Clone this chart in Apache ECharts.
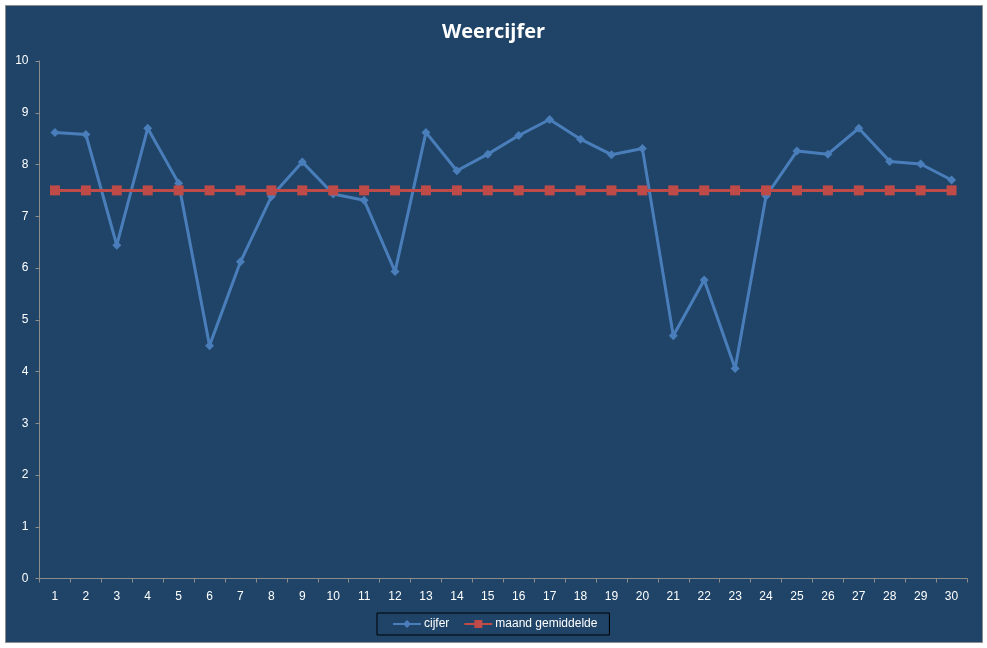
<!DOCTYPE html>
<html>
<head>
<meta charset="utf-8">
<script src="https://cdn.jsdelivr.net/npm/echarts@6/dist/echarts.min.js"></script>
<style>
  html, body { margin: 0; padding: 0; background: #fff; }
  #main { width: 987px; height: 648px; }
</style>
</head>
<body>
<div id="main"></div>
<script>
// dagen van de maand
var dagen = ['1','2','3','4','5','6','7','8','9','10','11','12','13','14','15',
             '16','17','18','19','20','21','22','23','24','25','26','27','28','29','30'];
// weercijfer per dag
var cijfer = [8.62, 8.58, 6.44, 8.70, 7.64, 4.50, 6.12, 7.38, 8.05, 7.43,
              7.31, 5.93, 8.62, 7.88, 8.20, 8.56, 8.87, 8.49, 8.19, 8.31,
              4.69, 5.77, 4.06, 7.39, 8.26, 8.20, 8.70, 8.06, 8.01, 7.70];
// maandgemiddelde
var gemiddelde = [7.5, 7.5, 7.5, 7.5, 7.5, 7.5, 7.5, 7.5, 7.5, 7.5,
                  7.5, 7.5, 7.5, 7.5, 7.5, 7.5, 7.5, 7.5, 7.5, 7.5,
                  7.5, 7.5, 7.5, 7.5, 7.5, 7.5, 7.5, 7.5, 7.5, 7.5];
var yTicks = [0, 10, 1]; // min, max, interval

var dom = document.getElementById("main");
var myChart = echarts.init(dom);
var font = '"Liberation Sans", Arial, sans-serif';

var option = {
    backgroundColor: '#ffffff',
    animation: false,
    graphic: [{
        type: 'rect',
        z: -10,
        shape: { x: 5.5, y: 5.5, width: 977, height: 637 },
        style: { fill: '#1F4467', stroke: '#8C8C8C', lineWidth: 1 }
    }],
    title: {
        text: 'Weercijfer',
        left: 'center',
        top: 17,
        textStyle: {
            color: '#ffffff',
            fontSize: 20,
            fontWeight: 'bold',
            fontFamily: '"Open Sans", sans-serif'
        }
    },
    legend: {
        data: ['cijfer', 'maand gemiddelde'],
        left: 377,
        top: 613,
        borderColor: '#000000',
        borderWidth: 1,
        padding: [5, 12, 5, 15],
        itemGap: 14,
        itemWidth: 28,
        itemHeight: 10,
        textStyle: { color: '#ffffff', fontSize: 12, fontFamily: font, padding: [0, 0, 0, -2] }
    },
    grid: {
        left: 39.5,
        right: 20,
        top: 61,
        bottom: 69.5,
        containLabel: false
    },
    xAxis: {
        type: 'category',
        data: dagen,
        boundaryGap: true,
        axisLine: { lineStyle: { color: '#8C8C8C', width: 1 } },
        axisTick: { show: true, length: 4, lineStyle: { color: '#8C8C8C' } },
        axisLabel: { color: '#ffffff', fontSize: 12, margin: 12, fontFamily: font, interval: 0 },
        splitLine: { show: false }
    },
    yAxis: {
        type: 'value',
        min: yTicks[0],
        max: yTicks[1],
        interval: yTicks[2],
        axisLine: { show: true, lineStyle: { color: '#8C8C8C', width: 1 } },
        axisTick: { show: true, length: 4, lineStyle: { color: '#8C8C8C' } },
        axisLabel: { color: '#ffffff', fontSize: 12, margin: 11, fontFamily: font },
        splitLine: { show: false }
    },
    series: [
        {
            name: 'cijfer',
            type: 'line',
            data: cijfer,
            symbol: 'diamond',
            symbolSize: 9,
            itemStyle: { color: '#4A7EBB' },
            lineStyle: { color: '#4A7EBB', width: 3 },
            z: 2
        },
        {
            name: 'maand gemiddelde',
            type: 'line',
            data: gemiddelde,
            symbol: 'rect',
            symbolSize: 10,
            itemStyle: { color: '#BE4B48' },
            lineStyle: { color: '#BE4B48', width: 3 },
            z: 3
        }
    ]
};
if (option && typeof option === "object") {
    myChart.setOption(option, true);
}
</script>
</body>
</html>
